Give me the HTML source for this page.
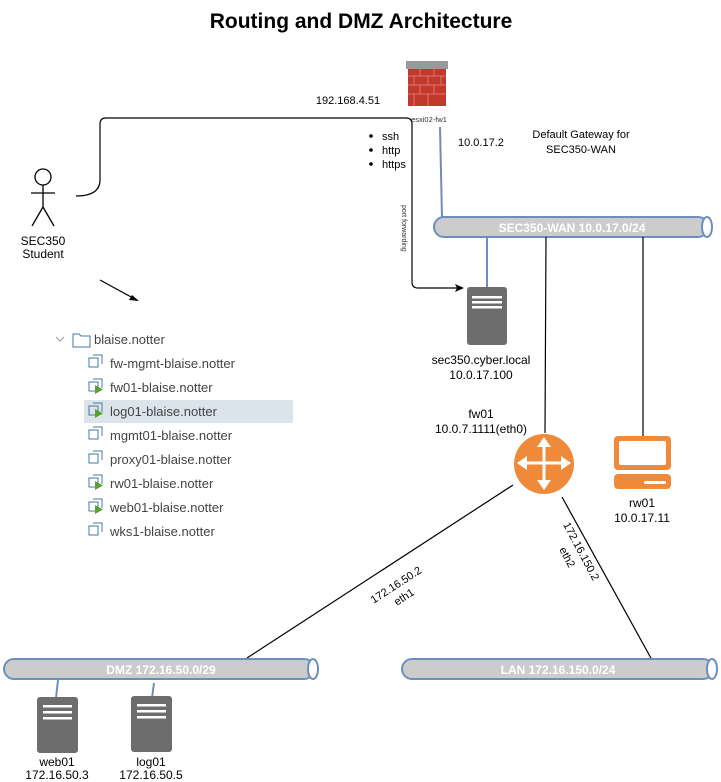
<!DOCTYPE html>
<html><head><meta charset="utf-8"><style>
body{margin:0;background:#fff}
svg{display:block;font-family:"Liberation Sans",sans-serif}
</style></head><body>
<svg width="721" height="782" viewBox="0 0 721 782" xmlns="http://www.w3.org/2000/svg">
<text x="361" y="28" font-size="21" font-weight="bold" text-anchor="middle">Routing and DMZ Architecture</text>
<g stroke="#000" stroke-width="1.3" fill="#fff">
<circle cx="43" cy="177" r="8"/>
<line x1="43" y1="185" x2="43" y2="207"/>
<line x1="31" y1="193" x2="55" y2="193"/>
<line x1="43" y1="207" x2="32" y2="226"/>
<line x1="43" y1="207" x2="54" y2="226"/>
</g>
<text x="43" y="245" font-size="12" text-anchor="middle">SEC350</text>
<text x="43" y="258" font-size="12" text-anchor="middle">Student</text>
<path d="M76 196 Q100 196 100 180 L100 124 Q100 118 106 118 L406 118 Q412 118 412 124 L412 282 Q412 288 418 288 L458 288" fill="none" stroke="#000" stroke-width="1.2"/>
<polygon points="464,288 455,284 457,288 455,292" fill="#000"/>
<text x="348" y="104" font-size="11" text-anchor="middle">192.168.4.51</text>
<rect x="408" y="66" width="38" height="40" fill="#c0392b"/>
<rect x="406" y="61" width="42" height="8" fill="#999"/>
<g stroke="#e57373" stroke-width="1">
<line x1="408" y1="76" x2="446" y2="76"/><line x1="408" y1="85" x2="446" y2="85"/><line x1="408" y1="94" x2="446" y2="94"/>
<line x1="420" y1="69" x2="420" y2="76"/><line x1="434" y1="69" x2="434" y2="76"/><line x1="414" y1="76" x2="414" y2="85"/><line x1="428" y1="76" x2="428" y2="85"/><line x1="441" y1="76" x2="441" y2="85"/><line x1="420" y1="85" x2="420" y2="94"/><line x1="434" y1="85" x2="434" y2="94"/><line x1="414" y1="94" x2="414" y2="106"/><line x1="428" y1="94" x2="428" y2="106"/>
</g>
<text x="429" y="122" font-size="7.5" fill="#333" text-anchor="middle">esxi02-fw1</text>
<circle cx="371" cy="136" r="1.8" fill="#000"/><circle cx="371" cy="150" r="1.8" fill="#000"/><circle cx="371" cy="164" r="1.8" fill="#000"/>
<text x="382" y="140" font-size="11">ssh</text>
<text x="382" y="154" font-size="11">http</text>
<text x="382" y="168" font-size="11">https</text>
<text transform="translate(402,205) rotate(90)" font-size="7" fill="#333">port forwarding</text>
<line x1="440" y1="127" x2="442" y2="218" stroke="#6c8ebf" stroke-width="2"/>
<text x="458" y="146" font-size="11">10.0.17.2</text>
<text x="581" y="138" font-size="11" text-anchor="middle">Default Gateway for</text>
<text x="581" y="153" font-size="11" text-anchor="middle">SEC350-WAN</text>
<rect x="434" y="217" width="274" height="20" rx="10" fill="#ccc" stroke="#6c8ebf" stroke-width="2"/>
<ellipse cx="707" cy="227" rx="5" ry="10" fill="#fff" stroke="#6c8ebf" stroke-width="2"/>
<text x="572" y="232" font-size="12" font-weight="bold" fill="#fff" text-anchor="middle">SEC350-WAN 10.0.17.0/24</text>
<line x1="487" y1="238" x2="487" y2="288" stroke="#6c8ebf" stroke-width="2"/>
<line x1="546" y1="237" x2="545" y2="433" stroke="#000" stroke-width="1.2"/>
<line x1="643" y1="237" x2="643" y2="436" stroke="#000" stroke-width="1.2"/>
<rect x="467" y="287" width="40" height="58" rx="3" fill="#6d6d6d"/>
<rect x="472" y="296" width="30" height="2.5" fill="#fff"/><rect x="472" y="301" width="30" height="2.5" fill="#fff"/><rect x="472" y="306" width="30" height="2.5" fill="#fff"/>
<text x="481" y="364" font-size="12" text-anchor="middle">sec350.cyber.local</text>
<text x="481" y="379" font-size="12" text-anchor="middle">10.0.17.100</text>
<text x="481" y="418" font-size="12" text-anchor="middle">fw01</text>
<text x="481" y="433" font-size="12" text-anchor="middle">10.0.7.1111(eth0)</text>
<circle cx="544" cy="464" r="30" fill="#ef8a3a"/>
<g stroke="#fff" stroke-width="3" fill="#fff">
<line x1="544" y1="444" x2="544" y2="484"/><line x1="523" y1="463" x2="565" y2="463"/>
</g>
<g fill="#fff">
<polygon points="544,437 537,447 551,447"/><polygon points="544,490 537,480 551,480"/>
<polygon points="517,463 527,456 527,470"/><polygon points="571,463 561,456 561,470"/>
</g>
<rect x="614" y="436" width="57" height="34" rx="4" fill="#ef8a3a"/>
<rect x="619" y="441" width="47" height="24" rx="2" fill="#fff"/>
<rect x="614" y="474" width="57" height="15" rx="4" fill="#ef8a3a"/>
<rect x="644" y="481" width="22" height="3" rx="1.5" fill="#fff"/>
<text x="642" y="507" font-size="12" text-anchor="middle">rw01</text>
<text x="642" y="522" font-size="12" text-anchor="middle">10.0.17.11</text>
<line x1="513" y1="485" x2="247" y2="658" stroke="#000" stroke-width="1.2"/>
<line x1="562" y1="497" x2="652" y2="660" stroke="#000" stroke-width="1.2"/>
<text transform="translate(398,588) rotate(-33)" font-size="11" text-anchor="middle">172.16.50.2</text>
<text transform="translate(406,600) rotate(-33)" font-size="11" text-anchor="middle">eth1</text>
<text transform="translate(578,553) rotate(62)" font-size="11" text-anchor="middle">172.16.150.2</text>
<text transform="translate(564,559) rotate(62)" font-size="11" text-anchor="middle">eth2</text>
<rect x="4" y="659" width="310" height="20" rx="10" fill="#ccc" stroke="#6c8ebf" stroke-width="2"/>
<ellipse cx="313" cy="669" rx="5" ry="10" fill="#fff" stroke="#6c8ebf" stroke-width="2"/>
<text x="161" y="674" font-size="12" font-weight="bold" fill="#fff" text-anchor="middle">DMZ 172.16.50.0/29</text>
<rect x="402" y="659" width="311" height="20" rx="10" fill="#ccc" stroke="#6c8ebf" stroke-width="2"/>
<ellipse cx="712" cy="669" rx="5" ry="10" fill="#fff" stroke="#6c8ebf" stroke-width="2"/>
<text x="558" y="674" font-size="12" font-weight="bold" fill="#fff" text-anchor="middle">LAN 172.16.150.0/24</text>
<line x1="58" y1="680" x2="56" y2="698" stroke="#6c8ebf" stroke-width="2"/>
<line x1="154" y1="683" x2="152" y2="698" stroke="#6c8ebf" stroke-width="2"/>
<rect x="37" y="697" width="41" height="56" rx="3" fill="#6d6d6d"/>
<rect x="43" y="705" width="29" height="2.5" fill="#fff"/><rect x="43" y="711" width="29" height="2.5" fill="#fff"/><rect x="43" y="717" width="29" height="2.5" fill="#fff"/>
<rect x="131" y="696" width="41" height="56" rx="3" fill="#6d6d6d"/>
<rect x="137" y="704" width="29" height="2.5" fill="#fff"/><rect x="137" y="710" width="29" height="2.5" fill="#fff"/><rect x="137" y="716" width="29" height="2.5" fill="#fff"/>
<text x="57" y="766" font-size="12" text-anchor="middle">web01</text>
<text x="57" y="779" font-size="12" text-anchor="middle">172.16.50.3</text>
<text x="151" y="766" font-size="12" text-anchor="middle">log01</text>
<text x="151" y="779" font-size="12" text-anchor="middle">172.16.50.5</text>
<line x1="100" y1="280" x2="133" y2="298" stroke="#000" stroke-width="1.2"/>
<polygon points="139,301 129,300 132,295" fill="#000"/>
<polyline points="56,337 60,341 64,337" fill="none" stroke="#999" stroke-width="1"/>
<path d="M73 334 h6 l2 2 h9 v11 h-17 z" fill="none" stroke="#45799f" stroke-width="1"/>
<text x="94" y="344" font-size="13" fill="#444">blaise.notter</text>
<rect x="84" y="400" width="209" height="23" fill="#dbe4ea"/>
<g font-size="13" fill="#444">
<text x="110" y="368">fw-mgmt-blaise.notter</text>
<text x="110" y="392">fw01-blaise.notter</text>
<text x="110" y="416">log01-blaise.notter</text>
<text x="110" y="440">mgmt01-blaise.notter</text>
<text x="110" y="464">proxy01-blaise.notter</text>
<text x="110" y="488">rw01-blaise.notter</text>
<text x="110" y="512">web01-blaise.notter</text>
<text x="110" y="536">wks1-blaise.notter</text>
</g>
<g fill="none" stroke="#45799f" stroke-width="1">
<path d="M89 358 h9 v9 h-9 z M93 355 h9 v9"/>
<path d="M89 382 h9 v9 h-9 z M93 379 h9 v9"/>
<path d="M89 406 h9 v9 h-9 z M93 403 h9 v9"/>
<path d="M89 430 h9 v9 h-9 z M93 427 h9 v9"/>
<path d="M89 454 h9 v9 h-9 z M93 451 h9 v9"/>
<path d="M89 478 h9 v9 h-9 z M93 475 h9 v9"/>
<path d="M89 502 h9 v9 h-9 z M93 499 h9 v9"/>
<path d="M89 526 h9 v9 h-9 z M93 523 h9 v9"/>
</g>
<g fill="#5aa02c">
<polygon points="95,385 95,394 103,389.5"/>
<polygon points="95,409 95,418 103,413.5"/>
<polygon points="95,481 95,490 103,485.5"/>
<polygon points="95,505 95,514 103,509.5"/>
</g>
</svg>
</body></html>
